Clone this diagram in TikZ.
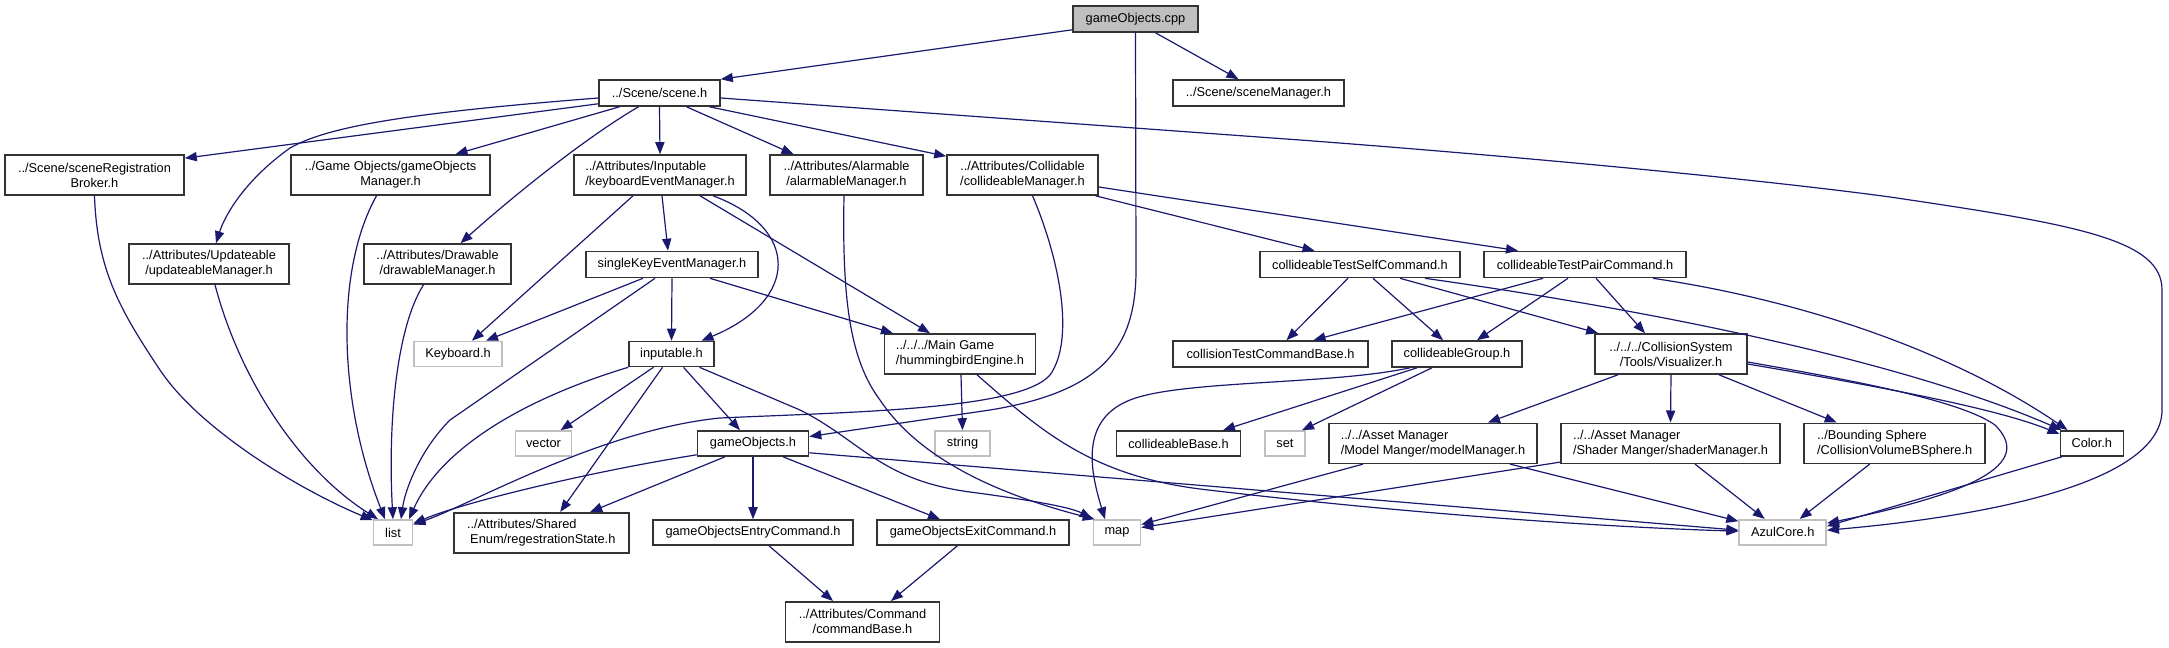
\documentclass[tikz,border=0pt]{standalone}
\usepackage{fontspec}
\setmainfont{Liberation Sans}
\usetikzlibrary{arrows.meta}
\definecolor{edgec}{HTML}{191970}
\begin{document}
\begin{tikzpicture}[x=0.5pt,y=-0.5pt,
  base/.style={draw, line width=0.8pt, inner sep=0pt, align=center, fill=white,
    font=\fontsize{6.4}{7.5}\selectfont},
  box/.style={base, draw=black!80},
  boxl/.style={box, align=left},
  sys/.style={base, draw=black!25},
  cppbox/.style={box, fill=black!25},
  sz/.style 2 args={minimum width=#1*0.5pt, minimum height=#2*0.5pt},
  e/.style={draw=edgec, line width=0.6pt, -{Triangle[length=6pt,width=4.6pt]}}]
\useasboundingbox (0,0) rectangle (2169,648);
\fill[white] (0,0) rectangle (2169,648);

% nodes
\node[cppbox, sz={125}{26}] (cpp) at (1135.5,19) {gameObjects.cpp};
\node[box, sz={121}{26}] (scene) at (659.5,93) {../Scene/scene.h};
\node[box, sz={171}{26}] (smgr) at (1258.5,93) {../Scene/sceneManager.h};
\node[box, sz={179}{40}] (srb) at (94.5,175) {../Scene/sceneRegistration\\Broker.h};
\node[box, sz={199}{40}] (gom) at (390.5,175) {../Game Objects/gameObjects\\Manager.h};
\node[boxl, sz={172}{40}] (kem) at (660,175) {../Attributes/Inputable\\/keyboardEventManager.h};
\node[box, sz={153}{40}] (alm) at (846.5,175) {../Attributes/Alarmable\\/alarmableManager.h};
\node[box, sz={151}{40}] (col) at (1022.5,175) {../Attributes/Collidable\\/collideableManager.h};
\node[box, sz={160}{40}] (upd) at (209,264) {../Attributes/Updateable\\/updateableManager.h};
\node[box, sz={147}{40}] (drw) at (437.5,264) {../Attributes/Drawable\\/drawableManager.h};
\node[box, sz={172}{26}] (skem) at (672,264.5) {singleKeyEventManager.h};
\node[box, sz={200}{26}] (ctsc) at (1360,264.5) {collideableTestSelfCommand.h};
\node[box, sz={202}{26}] (ctpc) at (1585,264.5) {collideableTestPairCommand.h};
\node[sys, sz={88}{25}] (kbd) at (458,354) {Keyboard.h};
\node[box, sz={85}{25}] (inp) at (671.5,354) {inputable.h};
\node[boxl, sz={151}{40}] (hum) at (960,354) {../../../Main Game\\/hummingbirdEngine.h};
\node[box, sz={195}{26}] (ctcb) at (1270.5,354) {collisionTestCommandBase.h};
\node[box, sz={130}{26}] (cgrp) at (1457,354) {collideableGroup.h};
\node[box, sz={152}{40}] (vis) at (1671,354) {../../../CollisionSystem\\/Tools/Visualizer.h};
\node[sys, sz={56}{25}] (vec) at (543.5,443.5) {vector};
\node[box, sz={111}{25}] (gobj) at (753,443.5) {gameObjects.h};
\node[sys, sz={55}{25}] (str) at (962.5,443.5) {string};
\node[box, sz={124}{25}] (cbase) at (1178.5,443.5) {collideableBase.h};
\node[sys, sz={40}{25}] (set) at (1285,443.5) {set};
\node[boxl, sz={208}{40}] (mdl) at (1433,443.3) {../../Asset Manager\\/Model Manger/modelManager.h};
\node[boxl, sz={219}{40}] (shd) at (1670.5,443.3) {../../Asset Manager\\/Shader Manger/shaderManager.h};
\node[boxl, sz={181}{40}] (bsph) at (1894.7,443.3) {../Bounding Sphere\\/CollisionVolumeBSphere.h};
\node[box, sz={63}{25}] (color) at (2091.8,443.3) {Color.h};
\node[sys, sz={39}{25}] (list) at (393,532.5) {list};
\node[boxl, sz={175}{40}] (reg) at (541.2,532.7) {../Attributes/Shared\\\hspace*{0.25em}Enum/regestrationState.h};
\node[box, sz={200}{25}] (goec) at (753,532.5) {gameObjectsEntryCommand.h};
\node[box, sz={192}{25}] (goxc) at (973,532.5) {gameObjectsExitCommand.h};
\node[sys, sz={47}{25}] (map) at (1117,532.5) {map};
\node[sys, sz={87}{25}] (azul) at (1782.7,532.2) {AzulCore.h};
\node[box, sz={154}{40}] (cmdb) at (862.5,621.8) {../Attributes/Command\\/commandBase.h};

% gameObjects.cpp
\draw[e] ([shift={(0,-3)}]cpp.south west) -- (scene.north east);
\draw[e] ([shift={(20,0)}]cpp.south) -- ([shift={(-20,0)}]smgr.north);
\draw[e] (cpp.south) -- (1136,270) .. controls (1136,350) and (1100,392) .. (990,410) -- ([shift={(0,-7)}]gobj.east);

% scene.h
\draw[e] ([shift={(0,-3)}]scene.south west) -- ([shift={(0,4)}]srb.north east);
\draw[e] ([shift={(0,5)}]scene.west) .. controls (420,112) and (330,125) .. (290,148) .. controls (245,180) and (225,215) .. ([shift={(7,0)}]upd.north);
\draw[e] ([shift={(-40,0)}]scene.south) -- ([shift={(65,0)}]gom.north);
\draw[e] ([shift={(-21,0)}]scene.south) .. controls (590,135) and (520,190) .. ([shift={(23,0)}]drw.north);
\draw[e] (scene.south) -- (kem.north);
\draw[e] ([shift={(27,0)}]scene.south) -- ([shift={(-53,0)}]alm.north);
\draw[e] ([shift={(50,0)}]scene.south) -- ([shift={(0,2)}]col.north west);
\draw[e] ([shift={(0,5)}]scene.east) -- (1300,140) .. controls (1500,155) and (1750,178) .. (1890,197) .. controls (2080,225) and (2162,240) .. (2162,290) -- (2162,410) .. controls (2162,480) and (2000,515) .. ([shift={(0,-2)}]azul.east);

% keyboardEventManager
\draw[e] ([shift={(2,0)}]kem.south) -- ([shift={(-4,0)}]skem.north);
\draw[e] ([shift={(-27,0)}]kem.south) -- ([shift={(14,0)}]kbd.north);
\draw[e] ([shift={(53,0)}]kem.south) .. controls (800,228) and (800,300) .. ([shift={(30,0)}]inp.north);
\draw[e] ([shift={(40,0)}]kem.south) -- ([shift={(-30,0)}]hum.north);

% singleKeyEventManager
\draw[e] ([shift={(-29,0)}]skem.south) -- ([shift={(28,0)}]kbd.north);
\draw[e] ([shift={(-17,0)}]skem.south) -- (450,420) .. controls (420,450) and (405,490) .. ([shift={(8,0)}]list.north);
\draw[e] (skem.south) -- (inp.north);
\draw[e] ([shift={(38,0)}]skem.south) -- ([shift={(-67,0)}]hum.north);

% list from the upper row
\draw[e] (srb.south) .. controls (97,270) and (120,310) .. (160,370) .. controls (200,430) and (300,490) .. ([shift={(0,1)}]list.north west);
\draw[e] ([shift={(6,0)}]upd.south) .. controls (240,380) and (300,470) .. ([shift={(-15,0)}]list.north);
\draw[e] ([shift={(-14,0)}]gom.south) .. controls (335,270) and (338,400) .. ([shift={(-8,0)}]list.north);
\draw[e] ([shift={(-14,0)}]drw.south) .. controls (395,330) and (388,430) .. (list.north);

% inputable.h
\draw[e] (inp.south west) .. controls (520,400) and (440,450) .. ([shift={(16,0)}]list.north);
\draw[e] ([shift={(-18,0)}]inp.south) -- ([shift={(17,0)}]vec.north);
\draw[e] ([shift={(-9,0)}]inp.south) -- ([shift={(19,0)}]reg.north);
\draw[e] ([shift={(12,0)}]inp.south) -- ([shift={(-13,0)}]gobj.north);
\draw[e] ([shift={(28,0)}]inp.south) -- (800,410) .. controls (860,440) and (880,480) .. (970,492) .. controls (1030,500) and (1070,507) .. ([shift={(-1,-1)}]map.north west);

% alarmableManager
\draw[e] ([shift={(-2.5,0)}]alm.south) .. controls (842,300) and (850,360) .. (880,400) .. controls (920,460) and (1000,495) .. ([shift={(2,0)}]map.north west);

% collideableManager
\draw[e] ([shift={(73,0)}]col.south) -- ([shift={(-45.5,0)}]ctsc.north);
\draw[e] ([shift={(0,12)}]col.east) -- ([shift={(-67,0)}]ctpc.north);
\draw[e] ([shift={(10,0)}]col.south) .. controls (1060,260) and (1075,340) .. (1050,375) .. controls (1020,410) and (850,412) .. (720,418) .. controls (600,430) and (470,505) .. ([shift={(0,-8)}]list.east);

% gameObjects.h
\draw[e] ([shift={(0,-2)}]gobj.south west) .. controls (600,470) and (470,500) .. ([shift={(0,-9)}]list.east);
\draw[e] ([shift={(-28,0)}]gobj.south) -- ([shift={(49,0)}]reg.north);
\draw[e] (gobj.south) -- (goec.north);
\draw[e] ([shift={(30,0)}]gobj.south) -- ([shift={(-33,0)}]goxc.north);
\draw[e] ([shift={(0,-4)}]gobj.south east) -- ([shift={(0,-2)}]azul.west);

% hummingbirdEngine
\draw[e] ([shift={(1,0)}]hum.south) -- (str.north);
\draw[e] ([shift={(17,0)}]hum.south) .. controls (1040,430) and (1090,475) .. (1200,489) .. controls (1400,513) and (1600,527) .. ([shift={(0,-1)}]azul.west);

% commands
\draw[e] ([shift={(16,0)}]goec.south) -- ([shift={(-29.5,0)}]cmdb.north);
\draw[e] ([shift={(-15.6,0)}]goxc.south) -- ([shift={(28.5,0)}]cmdb.north);

% collideableTestSelfCommand
\draw[e] ([shift={(-12,0)}]ctsc.south) -- ([shift={(16,0)}]ctcb.north);
\draw[e] ([shift={(13,0)}]ctsc.south) -- ([shift={(-14,0)}]cgrp.north);
\draw[e] ([shift={(40,0)}]ctsc.south) -- ([shift={(4,0)}]vis.north west);
\draw[e] ([shift={(65,0)}]ctsc.south) .. controls (1650,310) and (1900,360) .. ([shift={(2,0)}]color.north west);

% collideableTestPairCommand
\draw[e] ([shift={(-42,0)}]ctpc.south) -- ([shift={(43,0)}]ctcb.north);
\draw[e] ([shift={(-17,0)}]ctpc.south) -- ([shift={(20,0)}]cgrp.north);
\draw[e] ([shift={(11,0)}]ctpc.south) -- ([shift={(-26,0)}]vis.north);
\draw[e] ([shift={(68,0)}]ctpc.south) .. controls (1800,300) and (1950,350) .. ([shift={(8,0)}]color.north west);

% collideableGroup
\draw[e] ([shift={(-47,0)}]cgrp.south) .. controls (1330,385) and (1180,380) .. (1130,400) .. controls (1080,420) and (1090,470) .. ([shift={(-12,0)}]map.north);
\draw[e] ([shift={(-40,0)}]cgrp.south) -- ([shift={(44.5,0)}]cbase.north);
\draw[e] ([shift={(-25,0)}]cgrp.south) -- ([shift={(17,0)}]set.north);

% Visualizer
\draw[e] ([shift={(-53,0)}]vis.south) -- ([shift={(55,0)}]mdl.north);
\draw[e] (vis.south) -- (shd.north);
\draw[e] ([shift={(48,0)}]vis.south) -- ([shift={(-58,0)}]bsph.north);
\draw[e] ([shift={(0,10)}]vis.east) .. controls (1900,390) and (2000,410) .. ([shift={(0,4)}]color.north west);
\draw[e] ([shift={(0,8)}]vis.east) .. controls (1850,380) and (1960,400) .. (1995,425) .. controls (2030,460) and (1990,490) .. ([shift={(0,-9)}]azul.east);

% asset managers
\draw[e] ([shift={(-70,0)}]mdl.south) -- ([shift={(0,-8)}]map.east);
\draw[e] ([shift={(77,0)}]mdl.south) -- ([shift={(0,-11)}]azul.west);
\draw[e] ([shift={(0,-2)}]shd.south west) -- ([shift={(0,-5)}]map.east);
\draw[e] ([shift={(24.5,0)}]shd.south) -- ([shift={(-18,0)}]azul.north);
\draw[e] ([shift={(-25,0)}]bsph.south) -- ([shift={(17,0)}]azul.north);
\draw[e] ([shift={(3,0)}]color.south west) -- ([shift={(0,-6)}]azul.east);
\end{tikzpicture}
\end{document}
